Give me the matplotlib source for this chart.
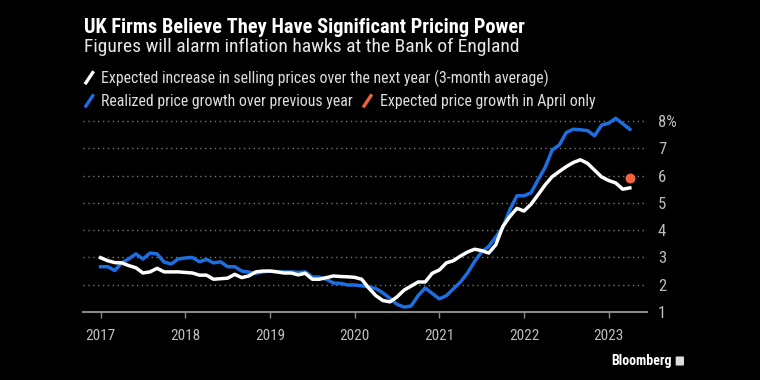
import matplotlib
matplotlib.use("Agg")
import matplotlib.pyplot as plt
from matplotlib import font_manager
from matplotlib.lines import Line2D
from matplotlib.patches import FancyBboxPatch


# =========================
# Data (monthly, Jan 2017 - Apr 2023)
# =========================

start_year = 2017
year_ticks = [2017, 2018, 2019, 2020, 2021, 2022, 2023]
y_ticks = [1, 2, 3, 4, 5, 6, 7, 8]
y_labels = ["1", "2", "3", "4", "5", "6", "7", "8%"]

expected = [
    2.99, 2.88, 2.81, 2.80, 2.70, 2.62, 2.43, 2.47, 2.60, 2.47, 2.47, 2.47,
    2.45, 2.43, 2.35, 2.35, 2.20, 2.22, 2.24, 2.38, 2.26, 2.32, 2.47, 2.50,
    2.50, 2.47, 2.43, 2.43, 2.36, 2.42, 2.20, 2.20, 2.26, 2.32, 2.30, 2.29,
    2.27, 2.20, 1.88, 1.60, 1.42, 1.37, 1.55, 1.80, 1.95, 2.10, 2.10, 2.42,
    2.54, 2.80, 2.88, 3.05, 3.20, 3.30, 3.25, 3.16, 3.46, 4.13, 4.50, 4.80,
    4.70, 4.95, 5.30, 5.66, 5.96, 6.15, 6.33, 6.48, 6.58, 6.45, 6.20, 5.95,
    5.82, 5.73, 5.50, 5.55,
]

realized = [
    2.66, 2.66, 2.52, 2.80, 2.95, 3.13, 2.94, 3.16, 3.13, 2.83, 2.76, 2.94,
    2.98, 3.00, 2.84, 2.93, 2.80, 2.84, 2.66, 2.66, 2.50, 2.46, 2.42, 2.47,
    2.50, 2.48, 2.47, 2.47, 2.45, 2.47, 2.28, 2.28, 2.20, 2.06, 2.05, 1.99,
    1.99, 1.96, 1.92, 1.86, 1.70, 1.50, 1.28, 1.18, 1.22, 1.60, 1.88, 1.68,
    1.48, 1.60, 1.85, 2.10, 2.43, 2.85, 3.20, 3.40, 3.75, 4.10, 4.75, 5.26,
    5.26, 5.37, 5.85, 6.30, 6.94, 7.12, 7.58, 7.70, 7.68, 7.65, 7.46, 7.85,
    7.92, 8.10, 7.90, 7.70,
]

april_month = 75   # Apr 2023
april_value = 5.93

t = [start_year + i / 12 for i in range(len(expected))]


# =========================
# Fonts / colours
# =========================

def pick_font(names):
    for n in names:
        try:
            font_manager.findfont(n, fallback_to_default=False)
            return n
        except Exception:
            pass
    return "DejaVu Sans"

FONT = pick_font(["Liberation Sans Narrow", "Roboto Condensed", "Roboto", "Open Sans"])
plt.rcParams["font.family"] = [FONT, "DejaVu Sans"]

BG = "black"
WHITE = "white"
BLUE = "#1d6ee0"
RED = "#f0623e"
GREY = "#bdbdbd"


# =========================
# Plot
# =========================

fig = plt.figure(figsize=(7.6, 3.8), dpi=100, facecolor=BG)
ax = fig.add_axes([0.109, 0.179, 0.742, 0.524], facecolor=BG)

ax.plot(t, realized, color=BLUE, lw=2.5, solid_joinstyle="round", zorder=3)
ax.plot(t, expected, color=WHITE, lw=2.5, solid_joinstyle="round", zorder=4)
ax.scatter([start_year + april_month / 12], [april_value], s=38, color=RED, zorder=5)

ax.set_xlim(2016.79, 2023.45)
ax.set_ylim(1, 8.3)

ax.set_xticks(year_ticks)
ax.set_xticklabels([str(y) for y in year_ticks])
ax.set_yticks(y_ticks)
ax.set_yticklabels(y_labels)

ax.yaxis.tick_right()
ax.tick_params(axis="y", length=0, pad=8, labelsize=12, labelcolor=GREY)
ax.tick_params(axis="x", direction="out", length=4, width=1, color="#888888",
               pad=8, labelsize=11, labelcolor=GREY)

for s in ["top", "left", "right"]:
    ax.spines[s].set_visible(False)
ax.spines["bottom"].set_color("#888888")
ax.spines["bottom"].set_linewidth(1.5)

ax.grid(axis="y", color="#777777", linestyle=(0, (1, 2.5)), linewidth=1)
ax.set_axisbelow(True)


# =========================
# Titles / legend
# =========================

fig.text(0.110, 0.928, "UK Firms Believe They Have Significant Pricing Power",
         color=WHITE, fontsize=14.7, fontweight="bold", va="center")
fig.text(0.110, 0.876, "Figures will alarm inflation hawks at the Bank of England",
         color="#e6e6e6", fontsize=14, va="center")

def legend_mark(x, y, color):
    fig.add_artist(Line2D([x, x + 0.009], [y - 0.013, y + 0.014], color=color,
                          lw=2.4, transform=fig.transFigure))

legend_mark(0.113, 0.795, WHITE)
fig.text(0.133, 0.795, "Expected increase in selling prices over the next year (3-month average)",
         color="#dddddd", fontsize=11.4, va="center")
legend_mark(0.113, 0.734, BLUE)
fig.text(0.133, 0.734, "Realized price growth over previous year",
         color="#dddddd", fontsize=11.4, va="center")
legend_mark(0.479, 0.734, RED)
fig.text(0.500, 0.734, "Expected price growth in April only",
         color="#dddddd", fontsize=11.4, va="center")

fig.text(0.884, 0.05, "Bloomberg", color=WHITE, fontsize=10,
         fontweight="bold", ha="right", va="center")
fig.add_artist(FancyBboxPatch((0.889, 0.038), 0.011, 0.024,
                              boxstyle="round,pad=0,rounding_size=0.002",
                              transform=fig.transFigure, facecolor="#dddddd",
                              edgecolor="none"))

fig.savefig("out.png", dpi=100, facecolor=BG)
